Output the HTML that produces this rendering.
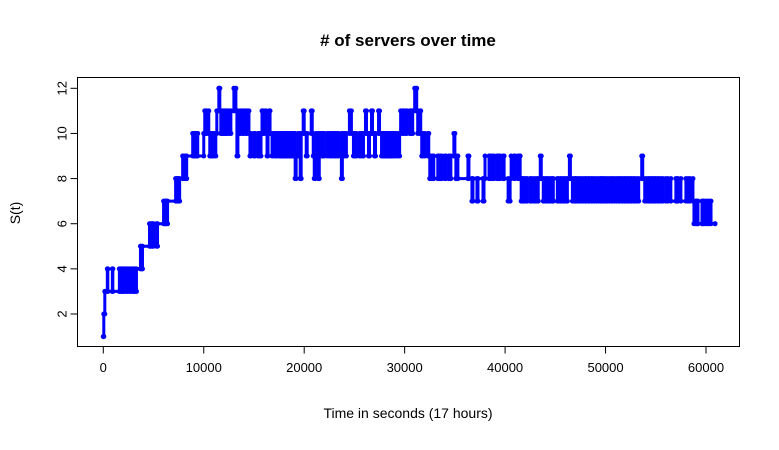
<!DOCTYPE html>
<html><head><meta charset="utf-8"><style>
body{margin:0;background:#fff;}
svg text{font-family:"Liberation Sans",Arial,sans-serif;fill:#000;}
</style></head><body>
<svg id="chart" width="779" height="445" viewBox="0 0 779 445" xmlns="http://www.w3.org/2000/svg">
<text x="408" y="46" font-size="17" font-weight="bold" text-anchor="middle"># of servers over time</text>
<rect x="77.5" y="77.5" width="662" height="269" fill="none" stroke="#000" stroke-width="1"/>
<g id="xaxis"></g>
<g id="yaxis"></g>
<g id="series"></g>
<text x="408" y="418" font-size="14" text-anchor="middle">Time in seconds (17 hours)</text>
<text x="20" y="213" font-size="14" text-anchor="middle" transform="rotate(-90 20 213)">S(t)</text>
</svg>
<script>
const xTicks=[0,10000,20000,30000,40000,50000,60000];
const yTicks=[2,4,6,8,10,12];
const times=[0,50,150,400,450,900,950,1600,1700,1800,1900,2000,2100,2300,2400,2600,2700,2900,3000,3100,3200,3300,3700,3800,3900,4600,4700,4800,4900,5000,5300,5400,6000,6100,6200,6300,6400,7200,7300,7400,7500,7600,7900,8000,8100,8200,8300,8900,9000,9100,9200,9300,9400,10000,10100,10200,10300,10500,10600,10700,10800,10900,11000,11200,11300,11500,11600,11700,11800,11900,12000,12100,12200,12300,12400,12600,12700,13000,13200,13300,13400,13600,13700,13900,14000,14200,14300,14500,14600,14700,15000,15100,15400,15500,15600,15700,15800,15900,16000,16200,16300,16400,16500,16600,16800,17000,17200,17300,17500,17600,17700,17800,17900,18000,18100,18200,18300,18400,18500,18600,18700,18800,18900,19000,19100,19200,19400,19600,19700,19900,20000,20200,20300,20700,20800,20900,21000,21100,21200,21400,21500,21600,21700,21800,21900,22000,22300,22500,22700,22800,23000,23100,23300,23400,23700,23800,24000,24200,24500,24700,24900,25000,25100,25200,25500,25600,25800,25900,26100,26200,26400,26500,26700,26800,27000,27100,27400,27500,27700,27800,27900,28000,28100,28200,28300,28400,28500,28600,28700,28800,28900,29100,29300,29500,29600,29800,29900,30100,30200,30500,30600,30700,30800,31000,31200,31300,31500,31600,31700,31800,32000,32300,32400,32500,32600,32800,32900,33300,33400,33600,33700,34000,34100,34400,34600,34900,35000,35100,35200,35300,36300,36400,36700,36800,37200,37300,37800,37900,38000,38400,38500,38700,38900,39200,39300,39500,39800,39900,40300,40500,40600,40900,41000,41300,41400,41500,41600,41700,41800,41900,42100,42200,42500,42600,42800,43000,43200,43300,43500,43600,43800,43900,44100,44200,44400,44600,44700,44800,45200,45300,45500,45600,45800,45900,46100,46200,46400,46500,46700,46900,47000,47100,47300,47400,47600,47800,48000,48100,48300,48400,48600,48700,48900,49100,49300,49500,49600,49700,49900,50000,50200,50400,50600,50700,50900,51100,51300,51400,51600,51700,51900,52000,52200,52300,52500,52600,52800,52900,53100,53300,53600,53700,53900,54100,54300,54400,54600,54700,54900,55000,55200,55300,55500,55700,56000,56200,56500,57000,57100,57200,57500,58000,58200,58400,58700,58800,59000,59100,59200,59600,59700,59800,60000,60200,60300,60500,60900];
const servers=[1,2,3,4,3,4,3,4,3,4,3,4,3,4,3,4,3,4,3,4,3,4,5,4,5,6,5,6,5,6,5,6,7,6,7,6,7,8,7,8,7,8,9,8,9,8,9,10,9,10,9,10,9,10,11,10,11,10,9,10,9,10,9,10,11,12,11,10,11,10,11,10,11,10,11,10,11,12,11,9,11,10,11,10,11,10,11,10,9,10,9,10,9,10,9,10,11,10,11,10,9,10,11,10,9,10,9,10,9,10,9,10,9,10,9,10,9,10,9,10,9,10,9,10,8,9,10,8,10,11,10,9,10,11,10,9,8,9,10,8,9,10,9,10,9,10,9,10,9,10,9,10,9,10,8,10,9,10,11,10,9,10,9,10,9,10,9,10,11,10,9,10,11,10,9,10,11,10,9,10,9,10,9,10,9,10,9,10,9,10,9,10,9,10,11,10,11,10,11,10,11,10,11,12,11,10,11,10,9,10,9,10,9,8,9,8,9,8,9,8,9,8,9,8,9,10,9,8,9,8,9,8,7,8,7,8,7,8,9,8,9,8,9,8,9,8,9,8,7,8,9,8,9,8,9,8,7,8,7,8,7,8,7,8,7,8,7,8,9,8,7,8,7,8,7,8,7,8,7,8,7,8,7,8,7,8,9,8,7,8,7,8,7,8,7,8,7,8,7,8,7,8,7,8,7,8,7,8,7,8,7,8,7,8,7,8,7,8,7,8,7,8,7,8,7,8,7,8,7,8,9,8,7,8,7,8,7,8,7,8,7,8,7,8,7,8,7,8,7,8,7,8,7,8,7,6,7,6,7,6,7,6,7,6,7,6,6];
const NS='http://www.w3.org/2000/svg';
const X=t=>103.3+t*0.010045;
const Y=v=>314+(2-v)*22.57;
function mk(tag,attrs,parent){const e=document.createElementNS(NS,tag);for(const k in attrs)e.setAttribute(k,attrs[k]);parent.appendChild(e);return e;}
const xa=document.getElementById('xaxis'),ya=document.getElementById('yaxis'),sg=document.getElementById('series');
mk('line',{x1:X(xTicks[0]),x2:X(xTicks[xTicks.length-1]),y1:346.5,y2:346.5,stroke:'#000'},xa);
xTicks.forEach(t=>{
  const l=mk('line',{x1:X(t),x2:X(t),y1:346.5,y2:353.5,stroke:'#000'},xa);
  
  
  const tx=mk('text',{x:X(t),y:372,'font-size':13,'text-anchor':'middle'},xa);tx.textContent=t;
  
  
});
yTicks.forEach(v=>{
  const l=mk('line',{x1:70.5,x2:77.5,y1:Y(v),y2:Y(v),stroke:'#000'},ya);
  
  
  const tx=mk('text',{x:62,y:Y(v),'font-size':13,'text-anchor':'middle',transform:`rotate(-90 62 ${Y(v)})`,dy:'0.35em'},ya);tx.textContent=v;
  
  
});
let d='';
for(let i=0;i<times.length;i++){
  const x=X(times[i]),y=Y(servers[i]);
  if(i===0)d+=`M${x},${y}`;else d+=`H${x}V${y}`;
}
const p=mk('path',{d:d,fill:'none',stroke:'#0000ff','stroke-width':3},sg);


for(let i=0;i<times.length;i++){
  const c=mk('circle',{cx:X(times[i]),cy:Y(servers[i]),r:2.5,fill:'#0000ff'},sg);
  
  
  if(i>0){
    const c2=mk('circle',{cx:X(times[i]),cy:Y(servers[i-1]),r:2.5,fill:'#0000ff'},sg);
    
    
  }
}
</script>
</body></html>
